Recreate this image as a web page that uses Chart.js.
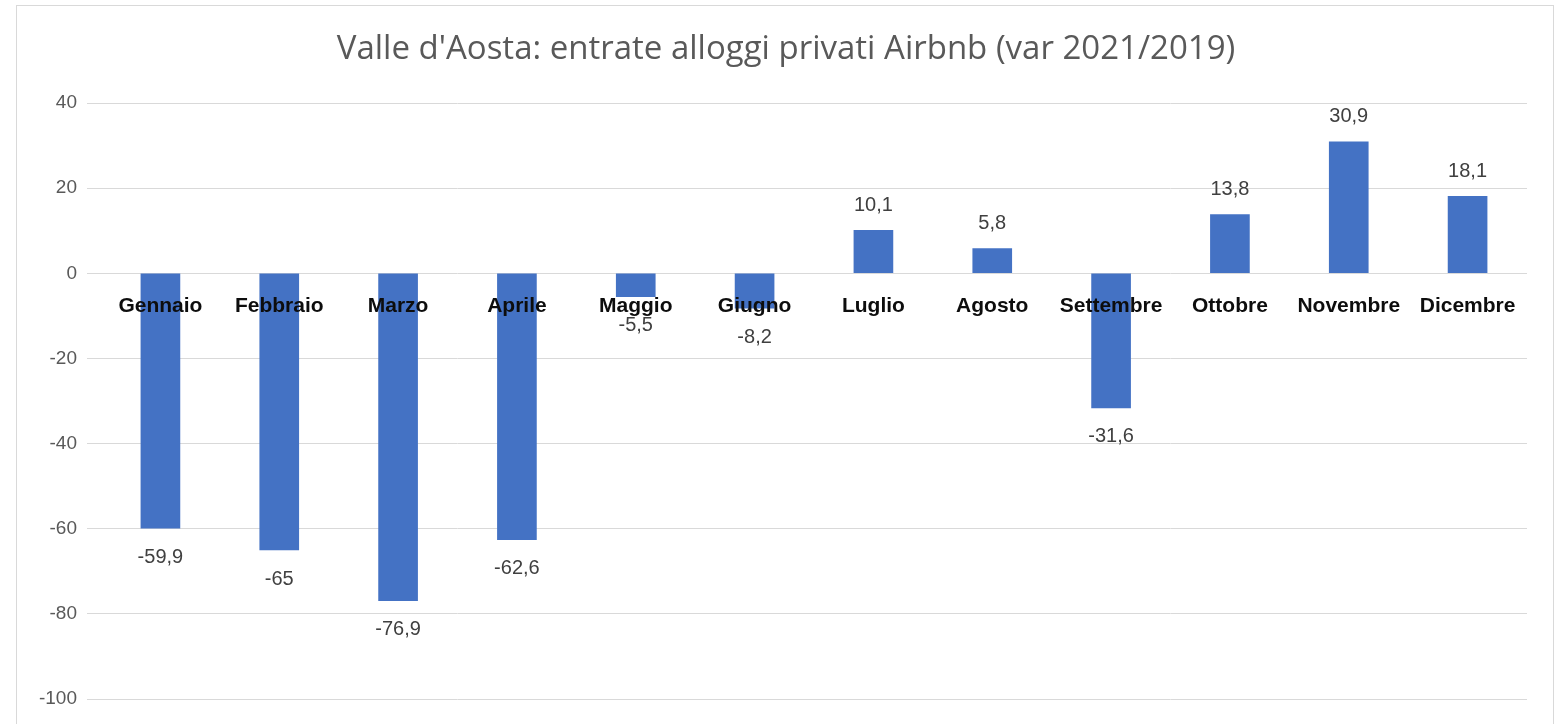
<!DOCTYPE html>
<html>
<head>
<meta charset="utf-8">
<script src="https://cdn.jsdelivr.net/npm/chart.js@4.4.1/dist/chart.umd.min.js"></script>
<style>
  html, body { margin: 0; padding: 0; background: #ffffff; overflow: hidden; }
  #box { position: absolute; left: 16px; top: 5px; width: 1536px; height: 760px; border: 1px solid #d9d9d9; background: #fff; }
  canvas { display: block; }
</style>
</head>
<body>
<div id="box"><canvas id="c" width="1536" height="760"></canvas></div>
<script>
const titleText = "Valle d'Aosta: entrate alloggi privati Airbnb (var 2021/2019)";
const months = ["Gennaio", "Febbraio", "Marzo", "Aprile", "Maggio", "Giugno", "Luglio", "Agosto", "Settembre", "Ottobre", "Novembre", "Dicembre"];
const variation = [-59.9, -65, -76.9, -62.6, -5.5, -8.2, 10.1, 5.8, -31.6, 13.8, 30.9, 18.1];
const yMin = -100;
const yMax = 40;
const yStep = 20;

const FONT = "'Liberation Sans', Arial, sans-serif";

const chartTitle = {
  id: 'chartTitle',
  afterDraw(chart) {
    const ctx = chart.ctx;
    ctx.save();
    ctx.font = "33px 'Open Sans', " + FONT;
    ctx.fillStyle = '#595959';
    ctx.textAlign = 'center';
    ctx.textBaseline = 'alphabetic';
    ctx.fillText(titleText, 769, 53);
    ctx.restore();
  }
};

const valueLabels = {
  id: 'valueLabels',
  afterDatasetsDraw(chart) {
    const ctx = chart.ctx;
    const meta = chart.getDatasetMeta(0);
    const data = chart.data.datasets[0].data;
    ctx.save();
    ctx.font = "20px " + FONT;
    ctx.fillStyle = '#404040';
    ctx.textAlign = 'center';
    ctx.textBaseline = 'middle';
    meta.data.forEach((bar, i) => {
      const v = data[i];
      const txt = String(v).replace('.', ',');
      const y = v >= 0 ? bar.y - 25 : bar.y + 29;
      ctx.fillText(txt, bar.x, y);
    });
    ctx.restore();
  }
};

new Chart(document.getElementById('c'), {
  type: 'bar',
  data: {
    labels: months,
    datasets: [{
      data: variation,
      backgroundColor: '#4472C4',
      borderWidth: 0,
      barThickness: 39
    }]
  },
  options: {
    responsive: false,
    animation: false,
    layout: { padding: { left: 0, right: 26, top: 97, bottom: 67 } },
    plugins: {
      legend: { display: false },
      tooltip: { enabled: false },
      title: { display: false }
    },
    scales: {
      x: {
        position: { y: 0 },
        grid: { display: false, drawTicks: false },
        border: { display: false },
        ticks: {
          z: 1,
          color: '#0d0d0d',
          font: { family: FONT, size: 21, weight: 'bold' },
          padding: 20,
          maxRotation: 0,
          autoSkip: false
        }
      },
      y: {
        min: yMin,
        max: yMax,
        afterFit(scale) { scale.width = 84; },
        grid: { color: '#d9d9d9', lineWidth: 1, drawTicks: true, tickLength: 14, tickColor: '#d9d9d9' },
        border: { display: false },
        ticks: {
          stepSize: yStep,
          color: '#595959',
          font: { family: FONT, size: 19 },
          padding: 10
        }
      }
    }
  },
  plugins: [valueLabels, chartTitle]
});
</script>
</body>
</html>
